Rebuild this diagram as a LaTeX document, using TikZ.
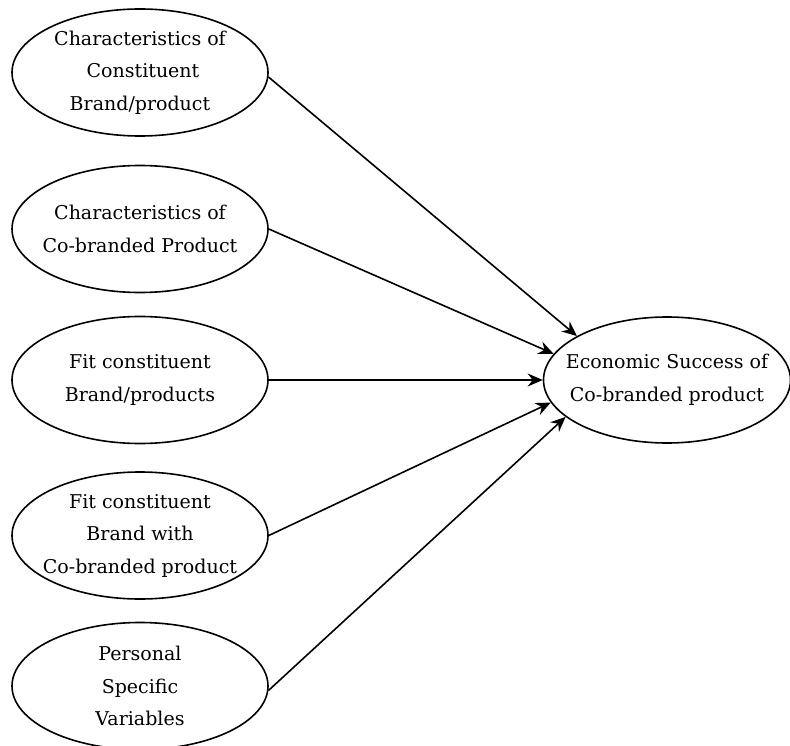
\documentclass[tikz,border=0pt]{standalone}
\usepackage{fontspec}
\setmainfont{DejaVu Serif}
\usetikzlibrary{shapes.geometric,arrows.meta}
\begin{document}
\begin{tikzpicture}[x=1pt,y=-1pt,
  elli/.style={ellipse,draw,line width=1.6pt,minimum width=256pt,minimum height=127pt,inner xsep=-60pt,inner ysep=-30pt,align=center,font=\fontsize{19}{32.5}\selectfont},
  arr/.style={line width=1.6pt,-{Stealth[length=15pt,width=13pt,inset=5pt]}}]
\useasboundingbox (0,0) rectangle (790,746);
\node[elli] (a) at (140,72.5) {Characteristics of\\ \ Constituent\\Brand/product};
\node[elli] (b) at (140,229) {Characteristics of\\Co-branded Product};
\node[elli] (c) at (140,380) {Fit constituent\\Brand/products};
\node[elli] (d) at (140,535.5) {Fit constituent\\Brand with\\Co-branded product};
\node[elli] (e) at (140,686) {Personal\\Specific\\Variables};
\node[elli,minimum width=247pt,minimum height=126pt] (t) at (667,380) {Economic Success of\\Co-branded product};
\draw[arr] (a.-2) -- (t.154.5);
\draw[arr] (b.0) -- (t.167.6);
\draw[arr] (c.0) -- (t.180);
\draw[arr] (d.0) -- (t.191.4);
\draw[arr] (e.-2) -- (t.200.7);
\end{tikzpicture}
\end{document}
